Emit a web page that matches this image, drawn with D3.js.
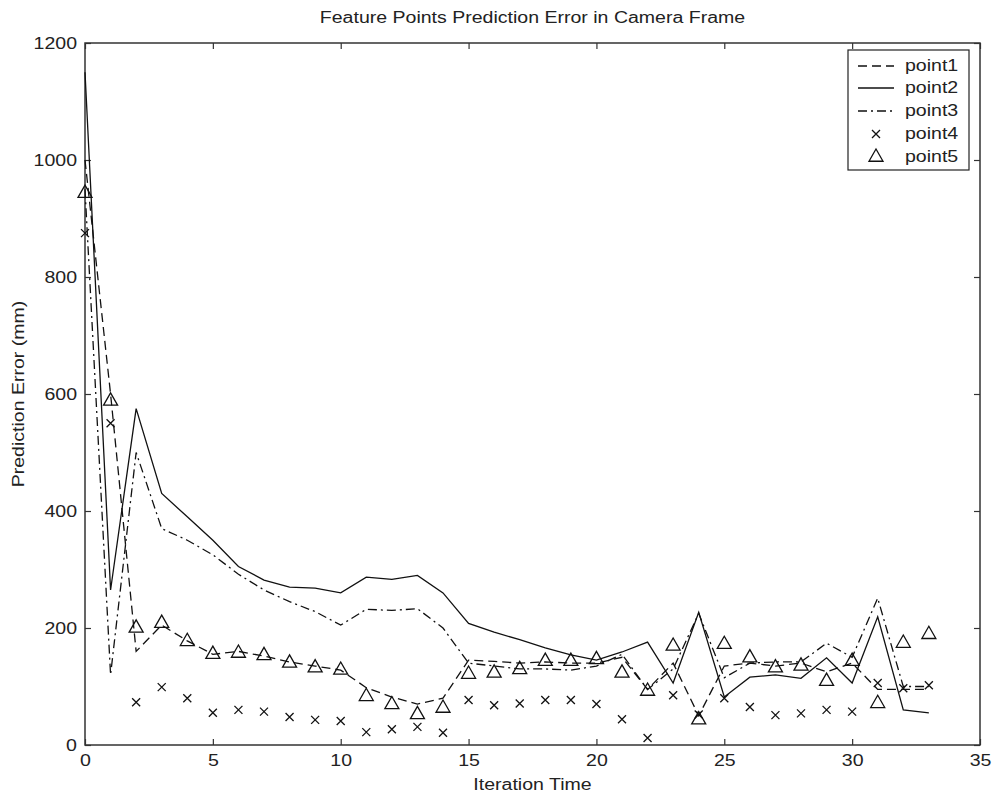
<!DOCTYPE html>
<html><head><meta charset="utf-8">
<script src="https://cdn.jsdelivr.net/npm/d3@7"></script>
<style>body{margin:0;background:#fff}text{font-family:"Liberation Sans",Arial,sans-serif;fill:#222}</style>
</head><body><svg id="c" width="993" height="795"></svg>
<script>
// ---- data ----
const iterations = [0,1,2,3,4,5,6,7,8,9,10,11,12,13,14,15,16,17,18,19,20,21,22,23,24,25,26,27,28,29,30,31,32,33];
const point1 = [1000,600,160,205,178,155,160,152,142,135,128,98,82,70,80,145,143,140,142,140,140,150,95,140,50,135,140,135,140,125,140,95,95,95];
const point2 = [1150,265,575,430,390,350,305,282,270,268,260,287,283,290,260,208,193,180,166,154,145,159,176,106,227,82,116,120,114,149,106,219,60,55];
const point3 = [950,120,500,370,350,325,292,265,245,228,205,232,230,233,200,140,135,130,130,128,135,155,95,130,225,115,140,142,142,174,150,251,100,100];
const point4 = [875,550,73,99,80,55,60,57,48,43,41,22,27,31,21,77,68,71,77,77,70,44,12,85,52,80,65,51,54,60,57,106,97,102];
const point5 = [945,590,202,210,179,157,159,155,142,134,130,85,71,54,65,123,125,131,145,145,148,125,94,171,45,174,151,134,137,111,145,73,176,191];
const seriesNames = ["point1","point2","point3","point4","point5"];
const xTicks = [0,5,10,15,20,25,30,35];
const yTicks = [0,200,400,600,800,1000,1200];
const titleText = "Feature Points Prediction Error in Camera Frame";
const xLabel = "Iteration Time";
const yLabel = "Prediction Error (mm)";

// ---- layout ----
(function(){
const svg = d3.select('#c');
const L = 85, R = 980, T = 43, B = 745;
const x = d3.scaleLinear().domain([0,35]).range([L,R]);
const y = d3.scaleLinear().domain([0,1200]).range([B,T]);
const FS = 16;
const fmt = d3.format('d');

const ax = svg.append('g');
ax.append('g').attr('transform',`translate(0,${B})`)
  .call(d3.axisBottom(x).tickValues(xTicks).tickFormat(fmt).tickSizeInner(-6).tickSizeOuter(0).tickPadding(10));
ax.append('g').attr('transform',`translate(0,${T})`)
  .call(d3.axisTop(x).tickValues(xTicks).tickSizeInner(-6).tickSizeOuter(0).tickFormat(''));
ax.append('g').attr('transform',`translate(${L},0)`)
  .call(d3.axisLeft(y).tickValues(yTicks).tickFormat(fmt).tickSizeInner(-6).tickSizeOuter(0).tickPadding(8));
ax.append('g').attr('transform',`translate(${R},0)`)
  .call(d3.axisRight(y).tickValues(yTicks).tickSizeInner(-6).tickSizeOuter(0).tickFormat(''));
ax.selectAll('.domain').remove();
ax.selectAll('.tick line').attr('stroke','#333').attr('stroke-width',1.2);
ax.selectAll('.tick text').attr('font-size',FS).attr('fill','#222')
  .style('font-family','"Liberation Sans",Arial,sans-serif');
ax.append('rect').attr('x',L).attr('y',T).attr('width',R-L).attr('height',B-T)
  .attr('fill','none').attr('stroke','#333').attr('stroke-width',1.5);

const lineGen = d3.line().x((d,i)=>x(iterations[i])).y(d=>y(d));
const lineStyles = [
  {data:point1, dash:'9,5'},
  {data:point2, dash:null},
  {data:point3, dash:'9,4,2,4'}
];
const plot = svg.append('g');
lineStyles.forEach(s=>{
  plot.append('path').datum(s.data).attr('d',lineGen)
    .attr('fill','none').attr('stroke','#111').attr('stroke-width',1.3)
    .attr('stroke-dasharray',s.dash);
});
const xMark = (g,cx,cy,r)=>g.append('path')
  .attr('d',`M${cx-r},${cy-r}L${cx+r},${cy+r}M${cx-r},${cy+r}L${cx+r},${cy-r}`)
  .attr('stroke','#111').attr('stroke-width',1.3).attr('fill','none');
const triMark = (g,cx,cy,r)=>g.append('path')
  .attr('d',`M${cx},${cy-r}L${cx+r},${cy+r*0.75}L${cx-r},${cy+r*0.75}Z`)
  .attr('stroke','#111').attr('stroke-width',1.3).attr('fill','none');
point4.forEach((v,i)=>xMark(plot,x(iterations[i]),y(v),4));
point5.forEach((v,i)=>triMark(plot,x(iterations[i]),y(v),7));

const lg = svg.append('g');
lg.append('rect').attr('x',848).attr('y',50).attr('width',121).attr('height',120)
  .attr('fill','#fff').attr('stroke','#222').attr('stroke-width',1.2);
const rowY = [66,88,111,134,157];
seriesNames.forEach((n,i)=>{
  const yy = rowY[i];
  if(i<3){
    lg.append('line').attr('x1',858).attr('x2',894).attr('y1',yy).attr('y2',yy)
      .attr('stroke','#111').attr('stroke-width',1.3).attr('stroke-dasharray',lineStyles[i].dash);
  } else if(i===3){ xMark(lg,876,yy,4); }
  else { triMark(lg,876,yy-1,7); }
  lg.append('text').attr('x',905).attr('y',yy+5).attr('font-size',FS).text(n);
});

svg.append('text').attr('x',(L+R)/2).attr('y',23).attr('text-anchor','middle')
  .attr('font-size',FS).text(titleText);
svg.append('text').attr('x',(L+R)/2).attr('y',790).attr('text-anchor','middle')
  .attr('font-size',FS).text(xLabel);
svg.append('text').attr('transform',`translate(24,${(T+B)/2}) rotate(-90)`).attr('text-anchor','middle')
  .attr('font-size',FS).text(yLabel);

// widen glyphs horizontally to match the reference's wide type
svg.selectAll('text').each(function(){
  const w = this.getComputedTextLength();
  if(w>0) d3.select(this).attr('textLength', (w*1.22).toFixed(1)).attr('lengthAdjust','spacingAndGlyphs');
});
})();
</script></body></html>
